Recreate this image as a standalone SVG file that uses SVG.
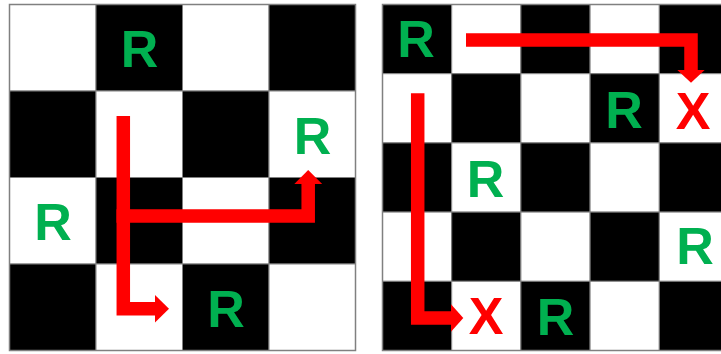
<svg xmlns="http://www.w3.org/2000/svg" width="721" height="354" viewBox="0 0 721 354">
<style>
.w{fill:#ffffff;stroke:#808080;stroke-width:1}
.b{fill:#000000;stroke:#808080;stroke-width:1}
.r{font-family:"Liberation Sans",Arial,sans-serif;font-weight:bold;font-size:52px;fill:#00B050;text-anchor:middle}
.x{font-family:"Liberation Sans",Arial,sans-serif;font-weight:bold;font-size:52px;fill:#FF0000;text-anchor:middle}
.ln{fill:none;stroke:#FF0000;stroke-width:13.5;stroke-linejoin:miter;stroke-linecap:butt}
.hd{fill:#FF0000}
</style>
<rect width="721" height="354" fill="#ffffff"/>
<g id="board-left">
<rect class="w" x="9.5" y="4.5" width="86.5" height="86.5"/>
<rect class="b" x="96" y="4.5" width="86.5" height="86.5"/>
<rect class="w" x="182.5" y="4.5" width="86.5" height="86.5"/>
<rect class="b" x="269" y="4.5" width="86.5" height="86.5"/>
<rect class="b" x="9.5" y="91" width="86.5" height="86.5"/>
<rect class="w" x="96" y="91" width="86.5" height="86.5"/>
<rect class="b" x="182.5" y="91" width="86.5" height="86.5"/>
<rect class="w" x="269" y="91" width="86.5" height="86.5"/>
<rect class="w" x="9.5" y="177.5" width="86.5" height="86.5"/>
<rect class="b" x="96" y="177.5" width="86.5" height="86.5"/>
<rect class="w" x="182.5" y="177.5" width="86.5" height="86.5"/>
<rect class="b" x="269" y="177.5" width="86.5" height="86.5"/>
<rect class="b" x="9.5" y="264" width="86.5" height="86.5"/>
<rect class="w" x="96" y="264" width="86.5" height="86.5"/>
<rect class="b" x="182.5" y="264" width="86.5" height="86.5"/>
<rect class="w" x="269" y="264" width="86.5" height="86.5"/>
<rect x="9.5" y="4.5" width="346" height="346" fill="none" stroke="#808080" stroke-width="1.5"/>
</g>
<g id="board-right">
<rect class="b" x="382.5" y="4.5" width="69.2" height="69.2"/>
<rect class="w" x="451.7" y="4.5" width="69.2" height="69.2"/>
<rect class="b" x="520.9" y="4.5" width="69.2" height="69.2"/>
<rect class="w" x="590.1" y="4.5" width="69.2" height="69.2"/>
<rect class="b" x="659.3" y="4.5" width="69.2" height="69.2"/>
<rect class="w" x="382.5" y="73.7" width="69.2" height="69.2"/>
<rect class="b" x="451.7" y="73.7" width="69.2" height="69.2"/>
<rect class="w" x="520.9" y="73.7" width="69.2" height="69.2"/>
<rect class="b" x="590.1" y="73.7" width="69.2" height="69.2"/>
<rect class="w" x="659.3" y="73.7" width="69.2" height="69.2"/>
<rect class="b" x="382.5" y="142.9" width="69.2" height="69.2"/>
<rect class="w" x="451.7" y="142.9" width="69.2" height="69.2"/>
<rect class="b" x="520.9" y="142.9" width="69.2" height="69.2"/>
<rect class="w" x="590.1" y="142.9" width="69.2" height="69.2"/>
<rect class="b" x="659.3" y="142.9" width="69.2" height="69.2"/>
<rect class="w" x="382.5" y="212.1" width="69.2" height="69.2"/>
<rect class="b" x="451.7" y="212.1" width="69.2" height="69.2"/>
<rect class="w" x="520.9" y="212.1" width="69.2" height="69.2"/>
<rect class="b" x="590.1" y="212.1" width="69.2" height="69.2"/>
<rect class="w" x="659.3" y="212.1" width="69.2" height="69.2"/>
<rect class="b" x="382.5" y="281.3" width="69.2" height="69.2"/>
<rect class="w" x="451.7" y="281.3" width="69.2" height="69.2"/>
<rect class="b" x="520.9" y="281.3" width="69.2" height="69.2"/>
<rect class="w" x="590.1" y="281.3" width="69.2" height="69.2"/>
<rect class="b" x="659.3" y="281.3" width="69.2" height="69.2"/>
<rect x="382.5" y="4.5" width="346" height="346" fill="none" stroke="#808080" stroke-width="1.5"/>
</g>
<g id="pieces-left">
<text class="r" x="139.5" y="66.5">R</text>
<text class="r" x="312.5" y="154">R</text>
<text class="r" x="53" y="240">R</text>
<text class="r" x="226" y="327">R</text>
</g>
<g id="pieces-right">
<text class="r" x="416" y="57">R</text>
<text class="r" x="624" y="128">R</text>
<text class="x" x="693" y="129.3">X</text>
<text class="r" x="485.5" y="197">R</text>
<text class="r" x="695" y="263.5">R</text>
<text class="x" x="486" y="334.3">X</text>
<text class="r" x="555.5" y="335">R</text>
</g>
<g id="connectors">
<path class="ln" d="M123.3,116 V308.8 H156"/>
<polygon class="hd" points="155,295 169,308.8 155,322.6"/>
<path class="ln" d="M116.5,216 H308.2 V183"/>
<polygon class="hd" points="294.3,184 308.2,170 322.2,184"/>
<path class="ln" d="M466,40 H691 V71"/>
<polygon class="hd" points="677.3,70 691,82.7 704.7,70"/>
<path class="ln" d="M417.7,93.3 V318 H452"/>
<polygon class="hd" points="451,304.3 463.3,318 451,331.7"/>
</g>
</svg>
